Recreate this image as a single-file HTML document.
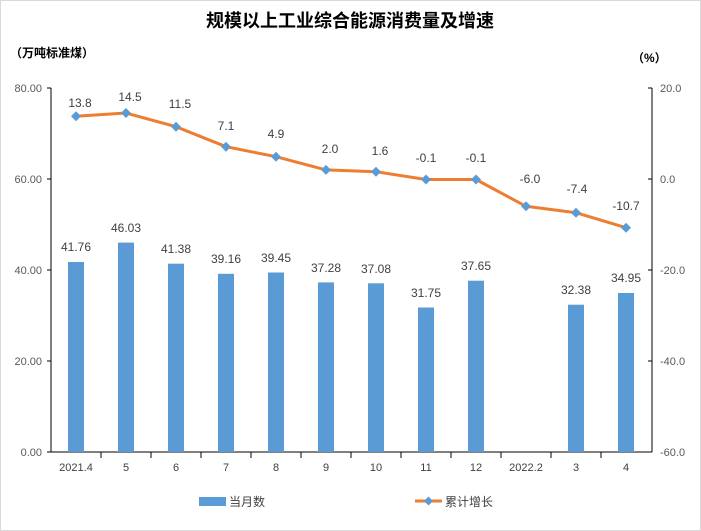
<!DOCTYPE html>
<html><head><meta charset="utf-8"><style>
body{margin:0;background:#fff}
svg{display:block;font-family:"Liberation Sans","Noto Sans CJK SC",sans-serif}
</style></head><body>
<svg width="701" height="531" viewBox="0 0 701 531">
<rect x="0.5" y="0.5" width="700" height="530" fill="#fff" stroke="#d9d9d9"/>
<text x="350" y="27" text-anchor="middle" font-size="18" font-weight="bold" fill="#000">规模以上工业综合能源消费量及增速</text>
<text x="10" y="57" font-size="12" font-weight="bold" fill="#000">（万吨标准煤）</text>
<text x="632" y="62" font-size="12" font-weight="bold" fill="#000">（%）</text>
<g font-size="11" fill="#595959">
<text x="42" y="92" text-anchor="end">80.00</text>
<text x="42" y="183" text-anchor="end">60.00</text>
<text x="42" y="274" text-anchor="end">40.00</text>
<text x="42" y="365" text-anchor="end">20.00</text>
<text x="42" y="456" text-anchor="end">0.00</text>
<text x="660" y="92">20.0</text>
<text x="660" y="183">0.0</text>
<text x="660" y="274">-20.0</text>
<text x="660" y="365">-40.0</text>
<text x="660" y="456">-60.0</text>
</g>
<g stroke="#000" stroke-width="1">
<line x1="51" y1="88" x2="51" y2="452"/>
<line x1="652" y1="88" x2="652" y2="452"/>
<line x1="51" y1="452" x2="652" y2="452"/>
<path d="M47 88H51M47 179H51M47 270H51M47 361H51M47 452H51M648 88H652M648 179H652M648 270H652M648 361H652M648 452H652"/>
<path d="M101 452V458M151 452V458M201 452V458M251 452V458M301 452V458M351 452V458M401 452V458M451 452V458M501 452V458M551 452V458M601 452V458"/>
</g>
<g fill="#5b9bd5">
<rect x="68" y="262" width="16" height="190"/>
<rect x="118" y="242.6" width="16" height="209.4"/>
<rect x="168" y="263.7" width="16" height="188.3"/>
<rect x="218" y="273.8" width="16" height="178.2"/>
<rect x="268" y="272.5" width="16" height="179.5"/>
<rect x="318" y="282.4" width="16" height="169.6"/>
<rect x="368" y="283.3" width="16" height="168.7"/>
<rect x="418" y="307.5" width="16" height="144.5"/>
<rect x="468" y="280.7" width="16" height="171.3"/>
<rect x="568" y="304.7" width="16" height="147.3"/>
<rect x="618" y="293" width="16" height="159"/>
</g>
<g font-size="12" fill="#404040" text-anchor="middle">
<text x="76" y="251">41.76</text>
<text x="126" y="232">46.03</text>
<text x="176" y="253">41.38</text>
<text x="226" y="263">39.16</text>
<text x="276" y="262">39.45</text>
<text x="326" y="272">37.28</text>
<text x="376" y="273">37.08</text>
<text x="426" y="297">31.75</text>
<text x="476" y="270">37.65</text>
<text x="576" y="294">32.38</text>
<text x="626" y="282">34.95</text>
</g>
<polyline fill="none" stroke="#ed7d31" stroke-width="3" stroke-linejoin="round" points="76,116.2 126,113 176,126.7 226,146.7 276,156.7 326,169.9 376,171.7 426,179.5 476,179.5 526,206.3 576,212.7 626,227.7"/>
<g fill="#5b9bd5">
<path d="M76 111.2l5 5-5 5-5-5z"/><path d="M126 108l5 5-5 5-5-5z"/><path d="M176 121.7l5 5-5 5-5-5z"/><path d="M226 141.7l5 5-5 5-5-5z"/><path d="M276 151.7l5 5-5 5-5-5z"/><path d="M326 164.9l5 5-5 5-5-5z"/><path d="M376 166.7l5 5-5 5-5-5z"/><path d="M426 174.5l5 5-5 5-5-5z"/><path d="M476 174.5l5 5-5 5-5-5z"/><path d="M526 201.3l5 5-5 5-5-5z"/><path d="M576 207.7l5 5-5 5-5-5z"/><path d="M626 222.7l5 5-5 5-5-5z"/>
</g>
<g font-size="12" fill="#404040" text-anchor="middle">
<text x="80" y="107">13.8</text>
<text x="130" y="101">14.5</text>
<text x="180" y="108">11.5</text>
<text x="226" y="130">7.1</text>
<text x="276" y="138">4.9</text>
<text x="330" y="153">2.0</text>
<text x="380" y="155">1.6</text>
<text x="426" y="162">-0.1</text>
<text x="476" y="162">-0.1</text>
<text x="530" y="183">-6.0</text>
<text x="577" y="193">-7.4</text>
<text x="626" y="210">-10.7</text>
</g>
<g font-size="11" fill="#404040" text-anchor="middle">
<text x="76" y="471">2021.4</text><text x="126" y="471">5</text><text x="176" y="471">6</text><text x="226" y="471">7</text><text x="276" y="471">8</text><text x="326" y="471">9</text><text x="376" y="471">10</text><text x="426" y="471">11</text><text x="476" y="471">12</text><text x="526" y="471">2022.2</text><text x="576" y="471">3</text><text x="626" y="471">4</text>
</g>
<rect x="199" y="497" width="27" height="9" fill="#5b9bd5"/>
<text x="229" y="506" font-size="12" fill="#404040">当月数</text>
<line x1="415" y1="501" x2="442" y2="501" stroke="#ed7d31" stroke-width="3"/>
<path d="M428.5 496.5l4.5 4.5-4.5 4.5-4.5-4.5z" fill="#5b9bd5"/>
<text x="445" y="506" font-size="12" fill="#404040">累计增长</text>
</svg>
</body></html>
